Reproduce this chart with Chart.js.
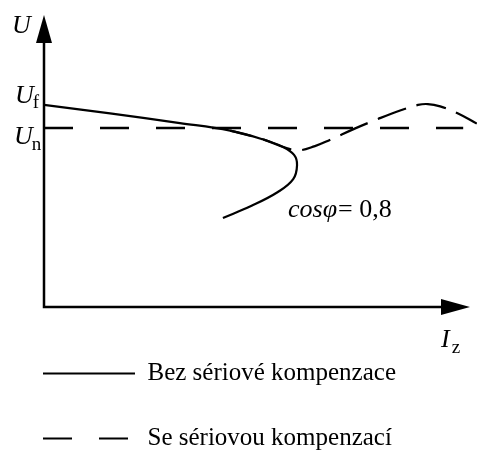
<!DOCTYPE html>
<html>
<head>
<meta charset="utf-8">
<script src="https://cdn.jsdelivr.net/npm/chart.js@4.4.1/dist/chart.umd.min.js"></script>
<style>
  html, body { margin: 0; padding: 0; background: #fff; }
  #wrap { width: 477px; height: 452px; position: relative; }
</style>
</head>
<body>
<div id="wrap"><canvas id="c" width="477" height="452"></canvas></div>
<script>
// ---- data (axis units 0..100 along each drawn axis) ----
const seriesLabels = ['Bez sériové kompenzace', 'Se sériovou kompenzací'];
const solidX  = [0, 15.5, 31.9, 43.7, 51.2, 56.1, 58.7, 59.4, 58.5, 54.9, 48.6, 42.0];
const solidY  = [69.2, 66.3, 63.0, 60.4, 57.5, 54.8, 52.1, 48.6, 43.8, 39.4, 34.6, 30.5];
const dashedX = [43.7, 51.2, 56.6, 59.6, 63.6, 67.1, 72.8, 78.4, 83.6, 87.8, 90.1, 93.0, 97.2, 101.6];
const dashedY = [60.4, 57.5, 54.6, 53.6, 55.1, 57.2, 61.0, 64.4, 67.3, 69.2, 69.5, 68.7, 66.3, 62.8];
const nominalX = [0, 98.4];
const nominalY = [61.3, 61.3];
const levelNames = ['f', 'n'];          // U_f, U_n
const levelValues = [69.2, 61.3];
const axisNames = ['U', 'I'];
const axisSubs = ['', 'z'];
const noteText = ['cosφ', '= 0,8'];

// ---- layout (pixels) ----
const AX = { left: 44, right: 470, top: 15, bottom: 307 };
const CA = { left: 3, right: 477, top: 0, bottom: 321 };
const pxX = (AX.right - AX.left) / 100;
const pxY = (AX.bottom - AX.top) / 100;

const pts = (xs, ys) => xs.map((v, i) => ({ x: v, y: ys[i] }));
const SERIF = '"Liberation Serif", "Times New Roman", serif';

const annot = {
  id: 'annot',
  afterDraw(chart) {
    const { ctx, scales: { x, y } } = chart;
    const x0 = x.getPixelForValue(0), y0 = y.getPixelForValue(0);
    const xe = x.getPixelForValue(100), ye = y.getPixelForValue(100);
    ctx.save();
    ctx.strokeStyle = '#000'; ctx.fillStyle = '#000';
    ctx.lineWidth = 2.5; ctx.lineJoin = 'miter'; ctx.setLineDash([]);
    ctx.beginPath();
    ctx.moveTo(x0, ye + 20); ctx.lineTo(x0, y0); ctx.lineTo(xe - 20, y0);
    ctx.stroke();
    // arrow heads
    ctx.beginPath();
    ctx.moveTo(x0, ye); ctx.lineTo(x0 - 8, ye + 28); ctx.lineTo(x0 + 8, ye + 28); ctx.closePath(); ctx.fill();
    ctx.beginPath();
    ctx.moveTo(xe, y0); ctx.lineTo(xe - 29, y0 - 8); ctx.lineTo(xe - 29, y0 + 8); ctx.closePath(); ctx.fill();

    ctx.textBaseline = 'alphabetic'; ctx.textAlign = 'left';
    const it = s => 'italic ' + s + 'px ' + SERIF;
    const up = s => s + 'px ' + SERIF;
    const pair = (main, sub, lx, by, ms, ss, dx, dy) => {
      ctx.font = it(ms); ctx.fillText(main, lx, by);
      const w = ctx.measureText(main).width;
      if (sub) { ctx.font = up(ss); ctx.fillText(sub, lx + w + dx, by + dy); }
    };
    // axis names
    pair(axisNames[0], axisSubs[0], x0 - 32, ye + 18, 26, 19, 0, 0);
    pair(axisNames[1], axisSubs[1], xe - 29, y0 + 40, 26, 19, 2, 6);
    // level labels
    const ly0 = y.getPixelForValue(levelValues[0]);
    const ly1 = y.getPixelForValue(levelValues[1]);
    pair('U', levelNames[0], x0 - 29, ly0 - 2, 26, 19, -1, 5);
    pair('U', levelNames[1], x0 - 30, ly1 + 16, 26, 19, -1, 6);
    // note
    ctx.font = it(26); ctx.fillText(noteText[0], 288, 217);
    const w = ctx.measureText(noteText[0]).width;
    ctx.font = up(26); ctx.fillText(noteText[1], 288 + w + 1, 217);
    ctx.restore();
  }
};

new Chart(document.getElementById('c'), {
  type: 'scatter',
  data: {
    datasets: [
      { label: seriesLabels[0], data: pts(solidX, solidY), showLine: true, borderColor: '#000', backgroundColor: '#000',
        borderWidth: 2.2, pointRadius: 0, tension: 0.4, fill: false },
      { label: seriesLabels[1], data: pts(dashedX, dashedY), showLine: true, borderColor: '#000', backgroundColor: '#000',
        borderWidth: 2.2, borderDash: [30, 11], borderDashOffset: 7, pointRadius: 0, tension: 0.4, fill: false, clip: false },
      { label: 'Un', data: pts(nominalX, nominalY), showLine: true, borderColor: '#000', backgroundColor: '#000',
        borderWidth: 2.5, borderDash: [29, 27], pointRadius: 0, tension: 0, fill: false }
    ]
  },
  options: {
    responsive: false,
    animation: false,
    events: [],
    devicePixelRatio: 1,
    layout: { padding: { left: CA.left, right: 0, top: 0, bottom: 0 } },
    scales: {
      x: { type: 'linear', display: false,
           min: -(AX.left - CA.left) / pxX, max: 100 + (CA.right - AX.right) / pxX },
      y: { type: 'linear', display: false,
           min: -(CA.bottom - AX.bottom) / pxY, max: 100 + (AX.top - CA.top) / pxY }
    },
    plugins: {
      tooltip: { enabled: false },
      legend: {
        position: 'bottom', align: 'start', maxHeight: 452 - CA.bottom,
        labels: {
          usePointStyle: true, pointStyle: 'line', pointStyleWidth: 92,
          padding: 40, color: '#000',
          font: { family: SERIF, size: 25 },
          generateLabels: (chart) => [0, 1].map(i => {
            const ds = chart.data.datasets[i];
            return { text: ds.label, fillStyle: '#000', strokeStyle: '#000', fontColor: '#000',
                     lineWidth: 2.2, lineDash: i === 1 ? [29, 27] : [], lineDashOffset: 0,
                     pointStyle: 'line', hidden: false, datasetIndex: i };
          })
        }
      }
    }
  },
  plugins: [annot]
});
</script>
</body>
</html>
